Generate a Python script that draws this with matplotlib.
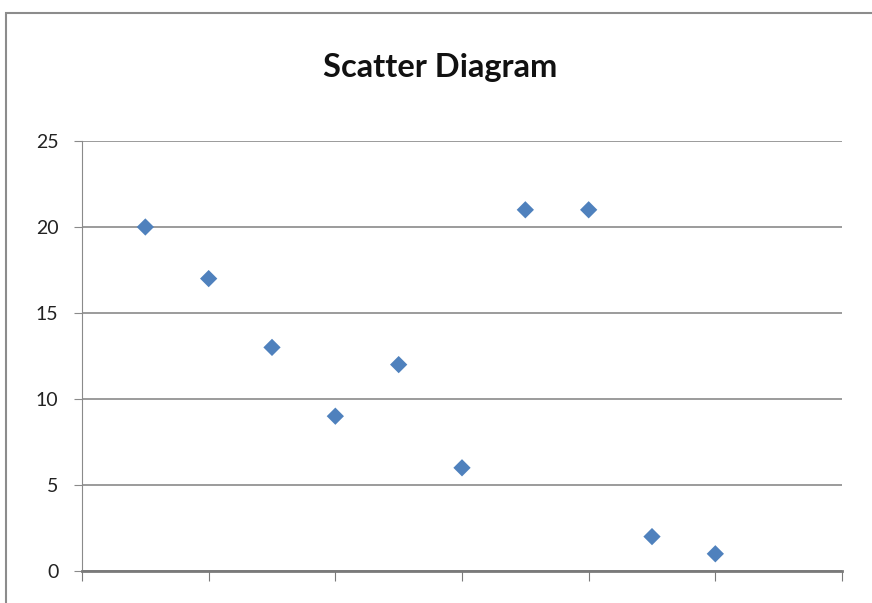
import matplotlib.pyplot as plt
from matplotlib.patches import Rectangle

# Dados do diagrama de dispersão
x_vals = [1, 2, 3, 4, 5, 6, 7, 8, 9, 10]
y_vals = [20, 17, 13, 9, 12, 6, 21, 21, 2, 1]
y_ticks = [0, 5, 10, 15, 20, 25]
x_ticks = [0, 2, 4, 6, 8, 10, 12]

W, H = 872, 603
fig = plt.figure(figsize=(W / 100, H / 100), dpi=100)

# Moldura do gráfico (estilo Excel)
fig.patches.append(Rectangle((6 / W, -0.1), 1.2, (H - 13) / H + 0.1,
                             transform=fig.transFigure, fill=False,
                             edgecolor='#8c8c8c', linewidth=1.5))

ax = fig.add_axes([82 / W, (H - 571) / H, 760 / W, 430 / H])
ax.scatter(x_vals, y_vals, marker='D', s=8.8 ** 2, color='#4F81BD',
           edgecolors='none', zorder=3)

ax.set_xlim(0, 12)
ax.set_ylim(0, 25)
ax.set_xticks(x_ticks)
ax.set_xticklabels([''] * len(x_ticks))
ax.set_yticks(y_ticks)
ax.set_yticklabels([str(t) for t in y_ticks], fontsize=14, family='Lato',
                   color='#222222')
ax.yaxis.grid(True, color='#8a8a8a', linewidth=1.2)
ax.set_axisbelow(True)

for lado in ['top', 'right']:
    ax.spines[lado].set_visible(False)
ax.spines['left'].set_color('#8a8a8a')
ax.spines['bottom'].set_color('#7a7a7a')
ax.spines['bottom'].set_linewidth(2)
ax.tick_params(axis='y', length=6, color='#8a8a8a', pad=11)
ax.tick_params(axis='x', length=7, color='#7a7a7a', direction='out')

fig.text(440 / W, 1 - 68 / H, 'Scatter Diagram', ha='center', va='center',
         fontsize=23.5, fontweight='bold', family='Lato', color='#111111')

fig.savefig('out.png', dpi=100)
